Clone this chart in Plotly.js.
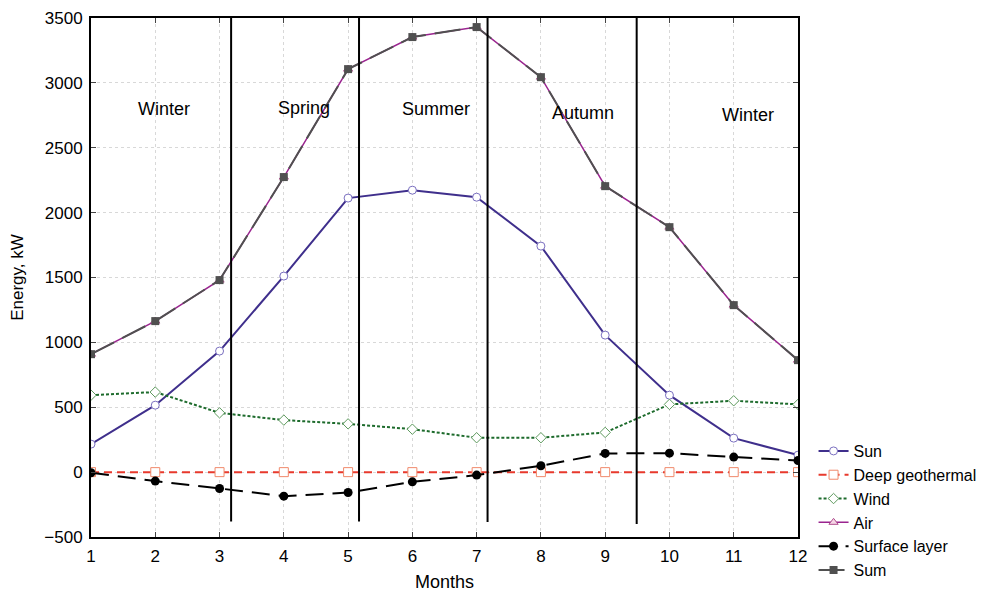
<!DOCTYPE html>
<html><head><meta charset="utf-8">
<script src="https://cdn.plot.ly/plotly-3.0.1.min.js"></script>
<style>html,body{margin:0;padding:0;background:#fff}</style>
</head><body>
<div id="chart" style="width:1001px;height:592px"></div>
<script>
const months = [1,2,3,4,5,6,7,8,9,10,11,12];
const sun = [216,516,933,1511,2112,2173,2119,1742,1056,593,262,131];
const deepGeothermal = [0,0,0,0,0,0,0,0,0,0,0,0];
const wind = [593,617,457,401,372,331,265,265,306,522,550,522];
const air = [909,1164,1480,2274,3106,3353,3430,3044,2204,1888,1287,863];
const surfaceLayer = [-5,-69,-126,-185,-157,-75,-23,49,144,146,116,90];
const sum = [909,1164,1480,2274,3106,3353,3430,3044,2204,1888,1287,863];
const seasonNames = ["Winter","Spring","Summer","Autumn","Winter"];
const seasonLabelX = [2.14,4.32,6.36,8.65,11.22];
const seasonLabelY = [2798,2805,2798,2767,2751];
const seasonBoundaries = [3.18,5.17,7.17,9.49];
const boundaryBottoms = [-380,-380,-385,-400];

const FONT = "Liberation Sans, Arial, sans-serif";
const traces = [
  {name:"Sun", x:months, y:sun, mode:"lines+markers",
   line:{color:"#3f2f8c", width:2},
   marker:{symbol:"circle", size:8, color:"#ffffff", line:{color:"#7a6fc0", width:1}}},
  {name:"Deep geothermal", x:months, y:deepGeothermal, mode:"lines+markers",
   line:{color:"#e8392c", width:2, dash:"8px,5px"},
   marker:{symbol:"square", size:9, color:"#ffffff", line:{color:"#f08a6c", width:1}}},
  {name:"Wind", x:months, y:wind, mode:"lines+markers",
   line:{color:"#1d6b2c", width:2, dash:"3px,2px"},
   marker:{symbol:"diamond", size:8, color:"#ffffff", line:{color:"#5e9a5e", width:1}}},
  {name:"Air", x:months, y:air, mode:"lines+markers",
   line:{color:"#9a248f", width:1.5},
   marker:{symbol:"triangle-up", size:8, color:"#f6d6e6", line:{color:"#b0508f", width:1}}},
  {name:"Surface layer", x:months, y:surfaceLayer, mode:"lines+markers",
   line:{color:"#000000", width:2, dash:"18px,9px"},
   marker:{symbol:"circle", size:9, color:"#000000"}},
  {name:"Sum", x:months, y:sum, mode:"lines+markers",
   line:{color:"#505050", width:2, dash:"26px,9px"},
   marker:{symbol:"square", size:8, color:"#505050"}}
];

const shapes = seasonBoundaries.map((bx,i)=>({type:"line", xref:"x", yref:"y",
  x0:bx, x1:bx, y0:boundaryBottoms[i], y1:3500, line:{color:"#000", width:2}}));
const annotations = seasonNames.map((s,i)=>({text:s, x:seasonLabelX[i], y:seasonLabelY[i],
  xref:"x", yref:"y", showarrow:false, font:{family:FONT, size:18, color:"#000"}}));

const layout = {
  width:1001, height:592,
  margin:{l:91, r:203, t:18, b:55, autoexpand:false},
  paper_bgcolor:"#fff", plot_bgcolor:"#fff",
  font:{family:FONT, size:17, color:"#000"},
  showlegend:true,
  legend:{x:1.022, xanchor:"left", y:0.051, yanchor:"middle", font:{family:FONT, size:16}, tracegroupgap:0, itemwidth:30},
  xaxis:{range:[1,12], tickmode:"array", tickvals:months, ticks:"inside", ticklen:5, mirror:"ticks",
    showline:true, linecolor:"#000", linewidth:2, showgrid:true, gridcolor:"#d8d8d8", griddash:"dot",
    zeroline:false, automargin:false, ticklabelstandoff:3,
    title:{text:"Months", font:{family:FONT, size:18}, standoff:12}, tickfont:{size:17}},
  yaxis:{range:[-500,3500], dtick:500, ticks:"inside", ticklen:5, mirror:"ticks",
    showline:true, linecolor:"#000", linewidth:2, showgrid:true, gridcolor:"#d8d8d8", griddash:"dot",
    zeroline:false, automargin:false, ticklabelstandoff:3,
    title:{text:"Energy, kW", font:{family:FONT, size:17}, standoff:16}, tickfont:{size:17}},
  shapes:shapes, annotations:annotations
};
Plotly.newPlot("chart", traces, layout, {displayModeBar:false, staticPlot:true});
</script>
</body></html>
